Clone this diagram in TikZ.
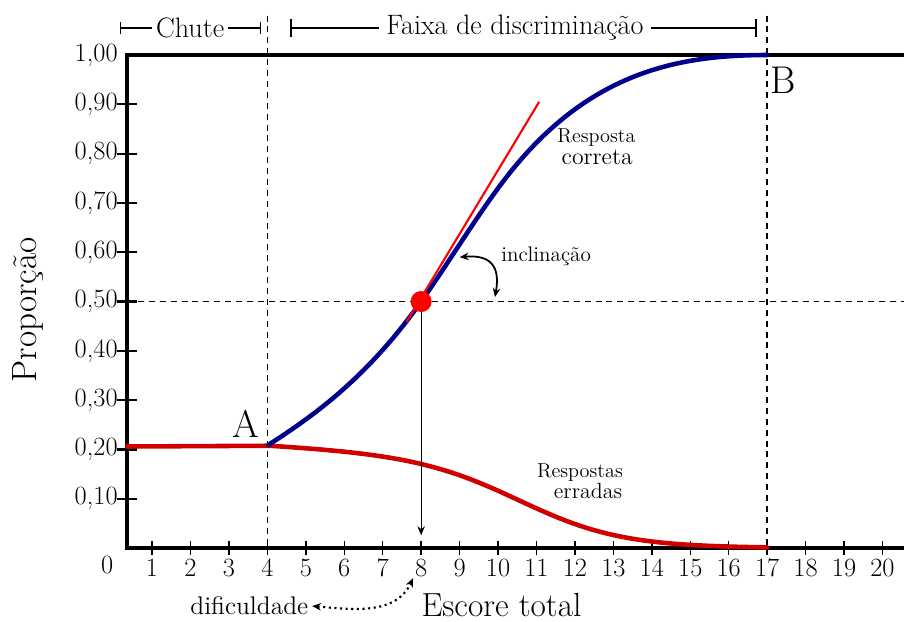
\documentclass[tikz,border=0pt]{standalone}
\usepackage{fontspec}
\usetikzlibrary{arrows.meta}
\definecolor{navyblue}{RGB}{0,0,140}
\definecolor{darkred}{RGB}{208,0,0}

\begin{document}
\begin{tikzpicture} [
  x=0.7688cm, y=9.86cm,
  >={Stealth[length=1.8mm,width=1.5mm]},
  axis line/.style= {line width=2pt},
  guide/.style= {line width=0.8pt, dash pattern=on 3.4pt off 2.8pt},
  curve/.style= {line width=2.6pt, line cap=round},
  tick label/.style= {font=\fontsize{15}{18}\selectfont, inner sep=1pt},
  small label/.style= {font=\fontsize{11.5}{13}\selectfont, inner sep=0pt},
  big label/.style= {font=\fontsize{22}{26}\selectfont, inner sep=0pt},
]
\useasboundingbox (-2.955,-0.148) rectangle (20.56,1.1116);

% guides
\draw[guide] (4,1.08) -- (4,0);
\draw[guide] (17,1.08) -- (17,0);
\draw[guide] (0.35,0.5) -- (20.56,0.5);

% axes
\draw[axis line] (20.56,1) -- (0.35,1) -- (0.35,0) -- (20.56,0);
\foreach \v in {1,...,9} {
  \draw[line width=1.2pt] (0.09,\v/10) -- (0.61,\v/10);
  \node[tick label, anchor=east] at (0.16,\v/10) {0,\v0};
}
\node[tick label, anchor=east] at (0.16,1) {1,00};
\foreach \i in {1,...,20} {
  \draw[line width=0.8pt] (\i,0.014) -- (\i,-0.014);
  \node[tick label] (t\i) at (\i,-0.0406) {\i};
}
\node[tick label] (t0) at (-0.17,-0.0345) {0};

% curves
\draw[curve, darkred] (0.35,0.206) -- plot[domain=4.07:17, samples=70]
  (\x,{(0.209-0.004*(\x-4.07))/(1+exp(0.746*(\x-10.7)))});
\draw[curve, navyblue] (4.02,0.209)
  .. controls (5.35,0.275) and (6.67,0.354) .. (8,0.5)
  .. controls (8.8,0.588) and (9.6,0.694) .. (10.4,0.77)
  .. controls (12.5,0.97) and (14.8,1) .. (17,1);

% tangent and point
\coordinate (tg1) at (7.625,0.459);
\coordinate (tg2) at (11.07,0.905);
\draw[red, line width=1.2pt] (tg1) -- (tg2);
\node (p) [circle, fill=red, inner sep=0, minimum size=0.42cm] at (8,0.5) {};
\coordinate (p0) at (8,0.026);
\draw[->, line width=0.6pt] (p) -- (p0);

% labels
\node[big label] (A) at (3.44,0.2515) {A};
\node[big label] (B) at (17.41,0.949) {B};
\node[small label] (rc1) at (12.56,0.833) {Resposta};
\node[small label, font=\fontsize{13.5}{16}\selectfont] (rc2) at (12.58,0.792) {correta};
\node[small label] (re1) at (12.13,0.153) {Respostas};
\node[small label, font=\fontsize{12.5}{15}\selectfont] (re2) at (12.34,0.115) {erradas};
\node[small label, font=\fontsize{12}{14}\selectfont] (incl) at (11.25,0.592) {inclinação};
\coordinate (s1) at (9.0,0.590);
\coordinate (s2) at (9.92,0.509);
\draw[<->, line width=1pt] (s1) to[out=5, in=80, looseness=1.5] (s2);

% axis titles
\node[font=\fontsize{20}{24}\selectfont, rotate=90] (prop) at (-2.227,0.483) {Proporção};
\node[font=\fontsize{19}{23}\selectfont] (score) at (10.09,-0.1156) {Escore total};
\node[font=\fontsize{14.5}{17}\selectfont, inner sep=2pt] (dif) at (3.53,-0.1176) {dificuldade};
\coordinate (d8) at (7.79,-0.061);
\draw[<->, dotted, line width=1.2pt] (dif.east) to[out=-5, in=-115] (d8);

% ranges
\node[font=\fontsize{16}{19}\selectfont, inner sep=2pt] (chute) at (1.99,1.0548) {Chute};
\coordinate (c1) at (0.167,1.0548);
\coordinate (c2) at (3.83,1.0548);
\draw[{Bar[width=2.5mm]}-, line width=0.7pt] (c1) -- (chute.west);
\draw[-{Bar[width=2.5mm]}, line width=0.7pt] (chute.east) -- (c2);
\node[font=\fontsize{16}{19}\selectfont, inner sep=4pt] (faixa) at (10.44,1.0548) {Faixa de discriminação};
\coordinate (f1) at (4.59,1.0548);
\coordinate (f2) at (16.74,1.0548);
\draw[{Bar[width=3.5mm]}-, line width=1.1pt] (f1) -- (faixa.west);
\draw[-{Bar[width=3.5mm]}, line width=1.1pt] (faixa.east) -- (f2);
\end{tikzpicture}
\end{document}
